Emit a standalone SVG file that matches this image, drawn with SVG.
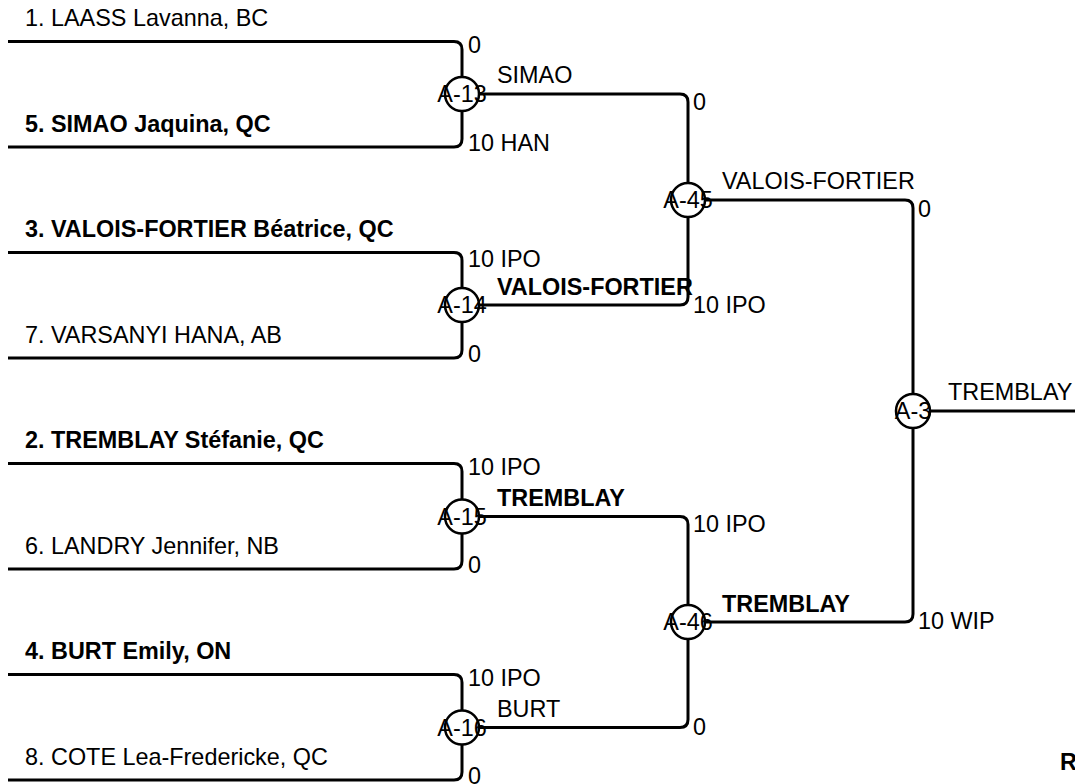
<svg xmlns="http://www.w3.org/2000/svg" width="1075" height="784" viewBox="0 0 1075 784">
<style>
.ln{fill:none;stroke:#000;stroke-width:3}
.c{fill:#fff;stroke:#000;stroke-width:2.5}
text{font-family:"Liberation Sans",Arial,sans-serif;font-size:23.4px;fill:#000}
.b{font-weight:bold}
.m{text-anchor:middle}
</style>
<rect width="1075" height="784" fill="#fff"/>
<g id="connectors">
<path class="ln" d="M8,41.5 H454 Q462,41.5 462,49.5 V77"/>
<path class="ln" d="M8,147 H454 Q462,147 462,139 V111"/>
<path class="ln" d="M8,252.5 H454 Q462,252.5 462,260.5 V288"/>
<path class="ln" d="M8,358 H454 Q462,358 462,350 V322"/>
<path class="ln" d="M8,463.5 H454 Q462,463.5 462,471.5 V499.5"/>
<path class="ln" d="M8,569 H454 Q462,569 462,561 V533.5"/>
<path class="ln" d="M8,674.5 H454 Q462,674.5 462,682.5 V710.5"/>
<path class="ln" d="M8,780 H454 Q462,780 462,772 V744.5"/>
<path class="ln" d="M479,94 H680 Q688,94 688,102 V183"/>
<path class="ln" d="M479,305 H680 Q688,305 688,297 V217"/>
<path class="ln" d="M479,516.5 H680 Q688,516.5 688,524.5 V605"/>
<path class="ln" d="M479,727.5 H680 Q688,727.5 688,719.5 V639"/>
<path class="ln" d="M705,200 H905 Q913,200 913,208 V394"/>
<path class="ln" d="M705,622 H905 Q913,622 913,614 V428"/>
<path class="ln" d="M930,411 H1075"/>
</g>
<g id="players">
<text x="25" y="26">1. LAASS Lavanna, BC</text>
<text x="25" y="131.5" class="b">5. SIMAO Jaquina, QC</text>
<text x="25" y="237" class="b">3. VALOIS-FORTIER Béatrice, QC</text>
<text x="25" y="342.5">7. VARSANYI HANA, AB</text>
<text x="25" y="448" class="b">2. TREMBLAY Stéfanie, QC</text>
<text x="25" y="553.5">6. LANDRY Jennifer, NB</text>
<text x="25" y="659" class="b">4. BURT Emily, ON</text>
<text x="25" y="764.5">8. COTE Lea-Fredericke, QC</text>
</g>
<g id="A-13">
<circle class="c" cx="462" cy="94" r="17"/>
<text x="462" y="102" class="m">A-13</text>
<text x="468" y="53">0</text>
<text x="468" y="151">10 HAN</text>
<text x="497" y="83">SIMAO</text>
</g>
<g id="A-14">
<circle class="c" cx="462" cy="305" r="17"/>
<text x="462" y="313" class="m">A-14</text>
<text x="468" y="267">10 IPO</text>
<text x="468" y="362">0</text>
<text x="497" y="295" class="b">VALOIS-FORTIER</text>
</g>
<g id="A-15">
<circle class="c" cx="462" cy="516.5" r="17"/>
<text x="462" y="524.5" class="m">A-15</text>
<text x="468" y="475">10 IPO</text>
<text x="468" y="573">0</text>
<text x="497" y="506" class="b">TREMBLAY</text>
</g>
<g id="A-16">
<circle class="c" cx="462" cy="727.5" r="17"/>
<text x="462" y="735.5" class="m">A-16</text>
<text x="468" y="686">10 IPO</text>
<text x="468" y="784">0</text>
<text x="497" y="717">BURT</text>
</g>
<g id="A-45">
<circle class="c" cx="688" cy="200" r="17"/>
<text x="688" y="208" class="m">A-45</text>
<text x="693" y="110">0</text>
<text x="693" y="313">10 IPO</text>
<text x="722" y="189">VALOIS-FORTIER</text>
</g>
<g id="A-46">
<circle class="c" cx="688" cy="622" r="17"/>
<text x="688" y="630" class="m">A-46</text>
<text x="693" y="532">10 IPO</text>
<text x="693" y="735">0</text>
<text x="722" y="612" class="b">TREMBLAY</text>
</g>
<g id="A-3">
<circle class="c" cx="913" cy="411" r="17"/>
<text x="913" y="419" class="m">A-3</text>
<text x="918" y="217">0</text>
<text x="918" y="629">10 WIP</text>
<text x="948" y="400">TREMBLAY</text>
</g>
<text x="1060" y="770" class="b">R</text>
</svg>
